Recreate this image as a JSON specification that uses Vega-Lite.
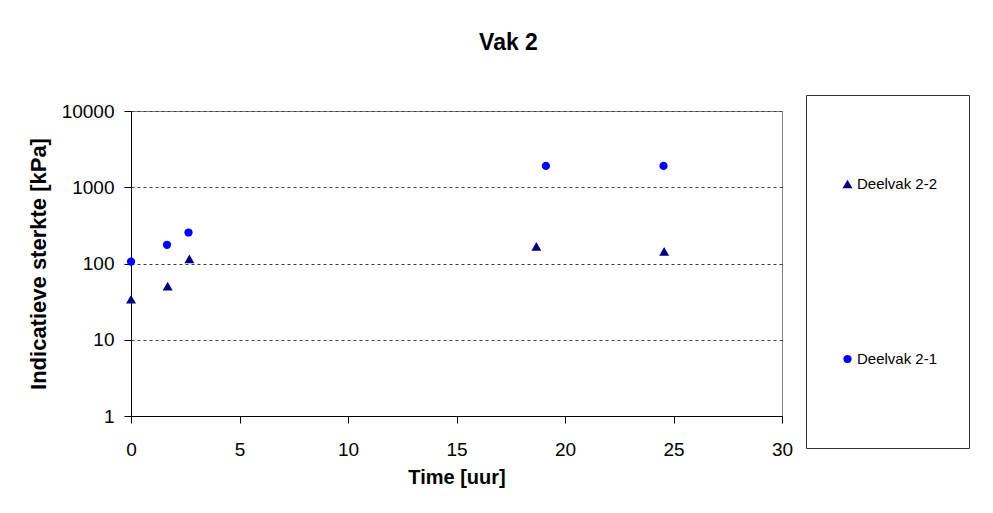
{
  "$schema": "https://vega.github.io/schema/vega-lite/v6.json",
  "width": 651,
  "height": 305,
  "autosize": {"type": "none"},
  "padding": {"left": 131, "top": 111, "right": 211, "bottom": 97},
  "background": "white",
  "title": {
    "text": "Vak 2",
    "font": "Liberation Sans",
    "fontSize": 23,
    "fontWeight": "bold",
    "color": "black",
    "anchor": "middle",
    "baseline": "alphabetic",
    "dx": 52,
    "offset": 22
  },
  "data": {
    "values": [
      {"series": "Deelvak 2-1", "time": 0, "value": 106},
      {"series": "Deelvak 2-1", "time": 1.66, "value": 176},
      {"series": "Deelvak 2-1", "time": 2.65, "value": 255},
      {"series": "Deelvak 2-1", "time": 19.12, "value": 1905},
      {"series": "Deelvak 2-1", "time": 24.54, "value": 1905},
      {"series": "Deelvak 2-2", "time": 0, "value": 34},
      {"series": "Deelvak 2-2", "time": 1.69, "value": 50.5},
      {"series": "Deelvak 2-2", "time": 2.69, "value": 115},
      {"series": "Deelvak 2-2", "time": 18.68, "value": 168},
      {"series": "Deelvak 2-2", "time": 24.57, "value": 144}
    ]
  },
  "mark": {"type": "point", "filled": true, "opacity": 1},
  "encoding": {
    "x": {
      "field": "time",
      "type": "quantitative",
      "scale": {"domain": [0, 30], "nice": false, "zero": false},
      "axis": {
        "title": "Time [uur]",
        "values": [0, 5, 10, 15, 20, 25, 30],
        "grid": false,
        "domainColor": "black",
        "tickColor": "black",
        "tickSize": 7,
        "labelFont": "Liberation Sans",
        "labelFontSize": 19,
        "labelColor": "black",
        "labelPadding": 17,
        "labelFlush": false,
        "titleFont": "Liberation Sans",
        "titleFontSize": 20,
        "titleFontWeight": "bold",
        "titleColor": "black",
        "titlePadding": 8
      }
    },
    "y": {
      "field": "value",
      "type": "quantitative",
      "scale": {"type": "log", "domain": [1, 10000], "nice": false},
      "axis": {
        "title": "Indicatieve sterkte [kPa]",
        "values": [1, 10, 100, 1000, 10000],
        "format": "d",
        "grid": true,
        "gridDash": [3, 3],
        "gridColor": "#404040",
        "gridWidth": 1,
        "domainColor": "black",
        "tickColor": "black",
        "tickSize": 7,
        "labelFont": "Liberation Sans",
        "labelFontSize": 19,
        "labelColor": "black",
        "labelPadding": 10,
        "titleFont": "Liberation Sans",
        "titleFontSize": 22,
        "titleFontWeight": "bold",
        "titleColor": "black",
        "titlePadding": 11
      }
    },
    "color": {
      "field": "series",
      "type": "nominal",
      "scale": {"domain": ["Deelvak 2-2", "Deelvak 2-1"], "range": ["#000080", "#0000FF"]},
      "legend": {
        "orient": "none",
        "legendX": 675,
        "legendY": -16,
        "title": null,
        "direction": "vertical",
        "padding": 31,
        "clipHeight": 116,
        "rowPadding": 59,
        "symbolOffset": 3,
        "labelOffset": 2,
        "strokeColor": "#333333",
        "fillColor": "white",
        "labelFont": "Liberation Sans",
        "labelFontSize": 15,
        "labelColor": "black"
      }
    },
    "shape": {
      "field": "series",
      "type": "nominal",
      "scale": {"domain": ["Deelvak 2-2", "Deelvak 2-1"], "range": ["triangle-up", "circle"]}
    },
    "size": {
      "field": "series",
      "type": "nominal",
      "scale": {"domain": ["Deelvak 2-2", "Deelvak 2-1"], "range": [100, 68]}
    }
  },
  "config": {
    "view": {"stroke": "#808080", "strokeWidth": 1}
  }
}
